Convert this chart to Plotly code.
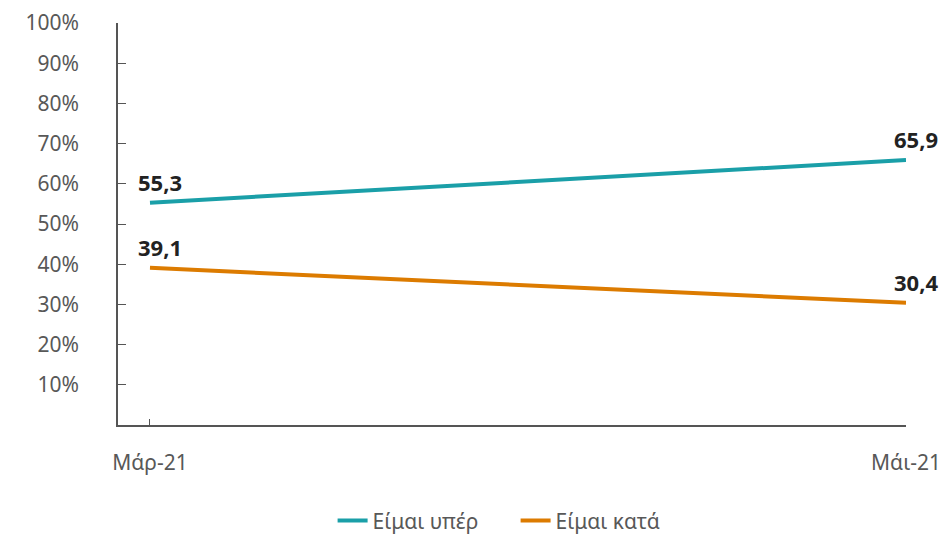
import plotly.graph_objects as go

periods = ["Μάρ-21", "Μάι-21"]
yper = [55.3, 65.9]
kata = [39.1, 30.4]
series_names = ["Είμαι υπέρ", "Είμαι κατά"]
series_colors = ["#1a9fa8", "#dc7b00"]
y_ticks = [0, 10, 20, 30, 40, 50, 60, 70, 80, 90, 100]
y_ticktext = ["" if v == 0 else f"{v}%" for v in y_ticks]

FONT = "Noto Sans"

# the page body adds an 8px margin, so the figure is 8px smaller than the window
fig = go.Figure()
for name, vals, col in zip(series_names, [yper, kata], series_colors):
    fig.add_trace(go.Scatter(
        x=periods, y=vals, name=name, mode="lines",
        line=dict(color=col, width=4),
    ))
    for p, v in zip(periods, vals):
        fig.add_annotation(
            x=p, y=v, text=f"{v:.1f}".replace(".", ","),
            showarrow=False, yanchor="bottom", yshift=4, xshift=10,
            font=dict(family=FONT, size=22, color="#222222", weight="bold"),
        )

fig.update_layout(
    width=940, height=527,
    margin=dict(l=110, r=42, t=15, b=110),
    paper_bgcolor="white", plot_bgcolor="white",
    font=dict(family=FONT, size=21, color="#585858"),
    showlegend=True,
    legend=dict(orientation="h", x=0.54, xanchor="center",
                xref="container", yref="container", y=0.027, yanchor="middle",
                entrywidth=138, entrywidthmode="pixels",
                font=dict(family=FONT, size=21, color="#585858")),
)
fig.update_xaxes(
    type="category", range=[-0.0423, 1], automargin=False,
    showline=True, linecolor="#555555", linewidth=1.5,
    ticks="inside", ticklen=6, tickcolor="#555555",
    showgrid=False, ticklabelstandoff=18,
    tickfont=dict(size=21),
)
fig.update_yaxes(
    range=[0, 100], tickvals=y_ticks, ticktext=y_ticktext, automargin=False,
    showline=True, linecolor="#555555", linewidth=1.5,
    ticks="inside", ticklen=8, tickcolor="#555555",
    showgrid=False, zeroline=False, ticklabelstandoff=33,
    tickfont=dict(size=21),
)

fig.write_html("out.html")
